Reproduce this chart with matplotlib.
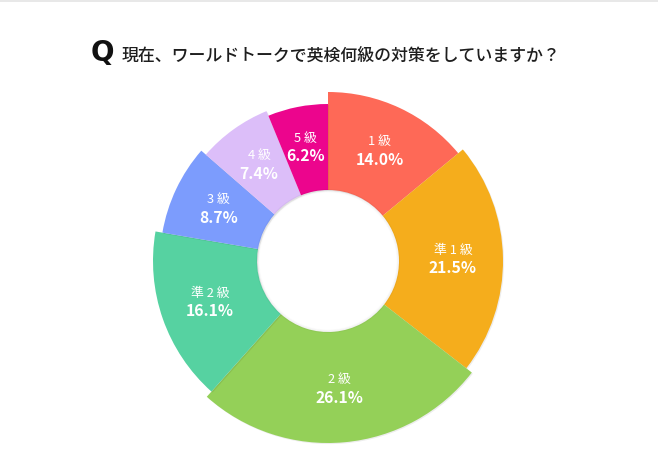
import matplotlib
matplotlib.use("Agg")
import matplotlib.pyplot as plt
from matplotlib.patches import Wedge, Circle, Rectangle
import matplotlib.patheffects as pe
import numpy as np

# ---- data ----
categories = ["1 級", "準 1 級", "2 級", "準 2 級", "3 級", "4 級", "5 級"]
values = [14.0, 21.5, 26.1, 16.1, 8.7, 7.4, 6.2]
colors = ["#FE6957", "#F5AD1C", "#94D058", "#56D2A1", "#7C9CFD", "#DCBEF9", "#EC058D"]
outer_radii = [169, 175, 182, 175, 168, 162, 157]   # relative slice size (px)
title = "現在、ワールドトークで英検何級の対策をしていますか？"

W, H = 658, 457
CX, CY = 328, H - 261
R_IN = 71

fig = plt.figure(figsize=(W / 100, H / 100), dpi=100)
ax = fig.add_axes([0, 0, 1, 1])
ax.set_xlim(0, W)
ax.set_ylim(0, H)
ax.set_aspect("equal")
ax.axis("off")

# faint top border
ax.add_patch(Rectangle((0, H - 2), W, 2, facecolor="#e8e8e8", edgecolor="none"))

cum = np.concatenate([[0], np.cumsum(values)])
total = cum[-1]
for i, (v, c, r) in enumerate(zip(values, colors, outer_radii)):
    a0 = cum[i] / total * 360
    a1 = cum[i + 1] / total * 360
    w = Wedge((CX, CY), r, 90 - a1, 90 - a0, width=r - R_IN,
              facecolor=c, edgecolor="none", zorder=2 + i)
    w.set_path_effects([pe.SimplePatchShadow(offset=(0.8, -0.8), alpha=0.07,
                                             shadow_rgbFace="black"),
                        pe.Normal()])
    ax.add_patch(w)
    mid = np.deg2rad((a0 + a1) / 2)
    rl = (R_IN + r) / 2 + 2
    lx = CX + rl * np.sin(mid)
    ly = CY + rl * np.cos(mid)
    ax.text(lx, ly + 9, categories[i], ha="center", va="center", color="white",
            fontsize=9.3, family=["Noto Sans CJK JP", "DejaVu Sans"], zorder=20)
    ax.text(lx, ly - 9, f"{v:.1f}%", ha="center", va="center", color="white",
            fontsize=11.3, fontweight="bold",
            family=["Noto Sans CJK JP", "DejaVu Sans"], zorder=20)

# hole with soft edge
for k, a in enumerate([0.03, 0.02, 0.012]):
    ax.add_patch(Circle((CX, CY), R_IN - k, facecolor="none",
                        edgecolor=(0, 0, 0, a), lw=1.5, zorder=15))
ax.add_patch(Circle((CX, CY), R_IN - 2.5, facecolor="white", edgecolor="none", zorder=16))

# title
ax.text(91, H - 53, "Q", ha="left", va="center", fontsize=20, fontweight="bold",
        family="DejaVu Sans", color="#111111")
ax.text(122, H - 56, title, ha="left", va="center", fontsize=12.2, fontweight="medium",
        family=["Noto Sans CJK JP", "DejaVu Sans"], color="#1e1e1e")

fig.savefig("out.png", dpi=100, facecolor="white")
